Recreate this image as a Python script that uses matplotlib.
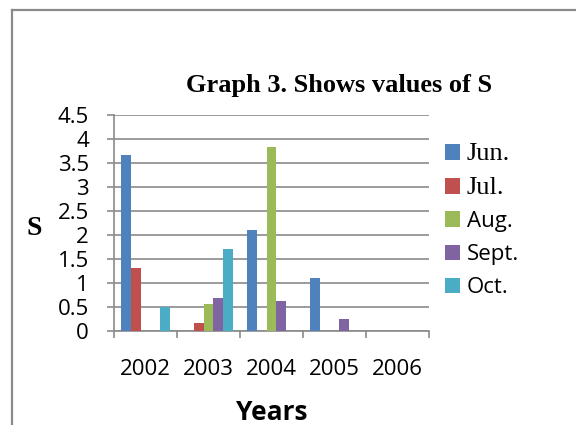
import matplotlib
matplotlib.use("Agg")
import matplotlib.pyplot as plt
import numpy as np
from matplotlib.lines import Line2D
from matplotlib.patches import Patch

years = ["2002", "2003", "2004", "2005", "2006"]
months = ["Jun.", "Jul.", "Aug.", "Sept.", "Oct."]
jun = [3.67, 0.0, 2.10, 1.10, 0.0]
jul = [1.31, 0.17, 0.0, 0.0, 0.0]
aug = [0.0, 0.56, 3.83, 0.0, 0.0]
sept = [0.0, 0.69, 0.63, 0.24, 0.0]
octo = [0.49, 1.70, 0.0, 0.0, 0.0]
series = [jun, jul, aug, sept, octo]
colors = ["#4F81BD", "#C0504D", "#9BBB59", "#8064A2", "#4BACC6"]
yticks = [0, 0.5, 1, 1.5, 2, 2.5, 3, 3.5, 4, 4.5]
ytick_labels = ["0", "0.5", "1", "1.5", "2", "2.5", "3", "3.5", "4", "4.5"]

SANS = "Open Sans"
SERIF = "Liberation Serif"
GRID = "#8a8a8a"

fig = plt.figure(figsize=(5.76, 4.25), dpi=100)
ax = fig.add_axes([114/576, 94/425, 315/576, 216/425])

x = np.arange(len(years))
w = 1/6.5
for i, (vals, c) in enumerate(zip(series, colors)):
    ax.bar(x + (i - 2) * w, vals, width=w, color=c, label=months[i], zorder=3)

ax.set_xlim(-0.5, len(years) - 0.5)
ax.set_ylim(0, 4.5)
ax.set_yticks(yticks)
ax.set_yticklabels(ytick_labels, fontfamily=SANS, fontsize=16)
ax.set_xticks(x)
ax.set_xticklabels(years, fontfamily=SANS, fontsize=16)
ax.set_xticks(np.arange(-0.5, len(years)), minor=True)
ax.tick_params(axis="x", which="major", length=0, pad=20)
ax.tick_params(axis="x", which="minor", length=5, width=1.2, color=GRID, direction="out")
ax.tick_params(axis="y", which="major", length=5, width=1.2, color=GRID, direction="out", pad=13)
ax.yaxis.grid(True, color=GRID, lw=1.2, zorder=0)
ax.set_axisbelow(True)
for s in ["top", "right"]:
    ax.spines[s].set_visible(False)
for s in ["left", "bottom"]:
    ax.spines[s].set_color(GRID)
    ax.spines[s].set_linewidth(1.2)

# legend
handles = [Patch(facecolor=c, edgecolor="none") for c in colors]
leg = fig.legend(handles, months, loc="center left",
                 bbox_to_anchor=(444.5/576, 1 - 220.5/425), frameon=False,
                 prop={"family": SANS, "size": 16}, handlelength=0.7,
                 handleheight=0.7, handletextpad=0.3, labelspacing=0.55,
                 borderpad=0, borderaxespad=0)
for t in leg.get_texts()[:2]:
    t.set_fontfamily(SERIF)
    t.set_fontsize(19)

fig.text(339/576, 1 - 91.7/425, "Graph 3. Shows values of S", fontfamily=SERIF,
         fontweight="bold", fontsize=19, ha="center", va="baseline")
fig.text(34.5/576, 1 - 235/425, "S", fontfamily=SERIF, fontweight="bold",
         fontsize=20, ha="center", va="baseline")
fig.text(271.5/576, 1 - 420/425, "Years", fontfamily=SANS, fontweight="bold",
         fontsize=19, ha="center", va="baseline")

# outer frame
fig.add_artist(Line2D([12/576, 1], [1 - 10/425, 1 - 10/425], transform=fig.transFigure,
                      color=GRID, lw=1.6))
fig.add_artist(Line2D([12/576, 12/576], [0, 1 - 10/425], transform=fig.transFigure,
                      color=GRID, lw=1.6))

fig.savefig("out.png", dpi=100)
